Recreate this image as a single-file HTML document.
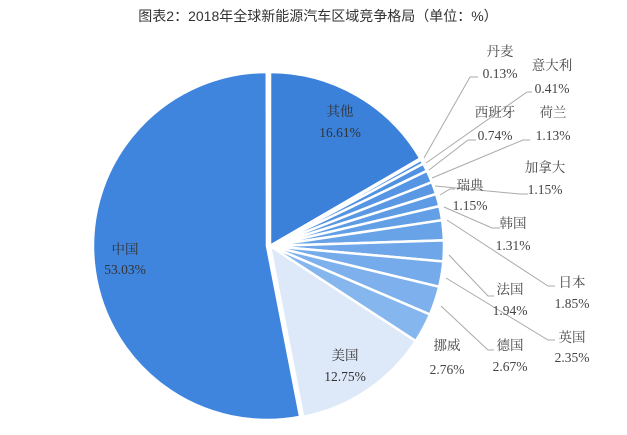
<!DOCTYPE html>
<html><head><meta charset="utf-8"><style>
html,body{margin:0;padding:0;background:#fff;}
svg{display:block;font-family:"Liberation Serif","Noto Serif CJK SC","Noto Sans CJK SC",serif;}
.t{font-size:13.5px;fill:#444;text-anchor:middle;}
.title{font-family:"Liberation Sans","Noto Sans CJK SC",sans-serif;font-size:14px;fill:#333;text-anchor:middle;}
.l{stroke:#aaa;stroke-width:1;fill:none;}
</style></head><body>
<svg id="s" width="627" height="435" viewBox="0 0 627 435">
<text class="title" x="318" y="21">图表2：2018年全球新能源汽车区域竞争格局（单位：%）</text>
<g id="pie"></g>
<g>
<polyline class="l" points="424,158 470,77 478,77"/>
<polyline class="l" points="426,163 527,92 532,92"/>
<polyline class="l" points="429,170 468,140 476,140"/>
<polyline class="l" points="432,178 523,140 530,140"/>
<polyline class="l" points="435,186 520,194 528,194"/>
<polyline class="l" points="440,195 450,189 455,189"/>
<polyline class="l" points="444,207 492,228 500,228"/>
<polyline class="l" points="447,220 548,286 555,286"/>
<polyline class="l" points="449,255 488,296 494,296"/>
<polyline class="l" points="446,278 548,340 555,340"/>
<polyline class="l" points="441,306 488,350 494,350"/>
</g>
<text class="t" x="500" y="56">丹麦</text><text class="t" x="500" y="78">0.13%</text>
<text class="t" x="552" y="70">意大利</text><text class="t" x="552" y="93">0.41%</text>
<text class="t" x="495" y="117">西班牙</text><text class="t" x="495" y="140">0.74%</text>
<text class="t" x="553" y="117">荷兰</text><text class="t" x="553" y="140">1.13%</text>
<text class="t" x="545" y="172">加拿大</text><text class="t" x="545" y="194">1.15%</text>
<text class="t" x="470" y="190">瑞典</text><text class="t" x="470" y="210">1.15%</text>
<text class="t" x="513" y="228">韩国</text><text class="t" x="513" y="250">1.31%</text>
<text class="t" x="572" y="287">日本</text><text class="t" x="572" y="308">1.85%</text>
<text class="t" x="510" y="294">法国</text><text class="t" x="510" y="315">1.94%</text>
<text class="t" x="572" y="342">英国</text><text class="t" x="572" y="362">2.35%</text>
<text class="t" x="510" y="350">德国</text><text class="t" x="510" y="371">2.67%</text>
<text class="t" x="447" y="350">挪威</text><text class="t" x="447" y="374">2.76%</text>
<text class="t" x="340" y="116" style="fill:#333">其他</text><text class="t" x="340" y="137" style="fill:#333">16.61%</text>
<text class="t" x="345" y="360" style="fill:#333">美国</text><text class="t" x="345" y="381" style="fill:#333">12.75%</text>
<text class="t" x="125" y="254" style="fill:#333">中国</text><text class="t" x="125" y="274" style="fill:#333">53.03%</text>
</svg>
<script>
var d=[16.61,0.13,0.41,0.74,1.13,1.15,1.15,1.31,1.85,1.94,2.35,2.67,2.76,12.75,53.03];
var cols=["#3b80d9","#4a8de0","#4d8fe1","#5192e2","#5595e3","#5a98e4","#5e9be5","#639fe6","#68a2e7","#6ea6e9","#75abea","#7db0ec","#86b6ee","#dde9f8","#3f85de"];
var cx=270,cy=246,r=174,a=0,g=document.getElementById('pie'),h='';
for(var i=0;i<d.length;i++){
 var a1=a+d[i]/100*2*Math.PI;
 var ox=0,oy=0; if(i==14){ox=-3;}
 var x0=cx+ox+r*Math.sin(a),y0=cy+oy-r*Math.cos(a),x1=cx+ox+r*Math.sin(a1),y1=cy+oy-r*Math.cos(a1);
 var lg=(a1-a)>Math.PI?1:0;
 h+='<path d="M'+(cx+ox)+','+(cy+oy)+' L'+x0+','+y0+' A'+r+','+r+' 0 '+lg+' 1 '+x1+','+y1+' Z" fill="'+cols[i]+'" stroke="#fff" stroke-width="2.5"/>';
 a=a1;
}
g.innerHTML=h;
</script>
</body></html>
